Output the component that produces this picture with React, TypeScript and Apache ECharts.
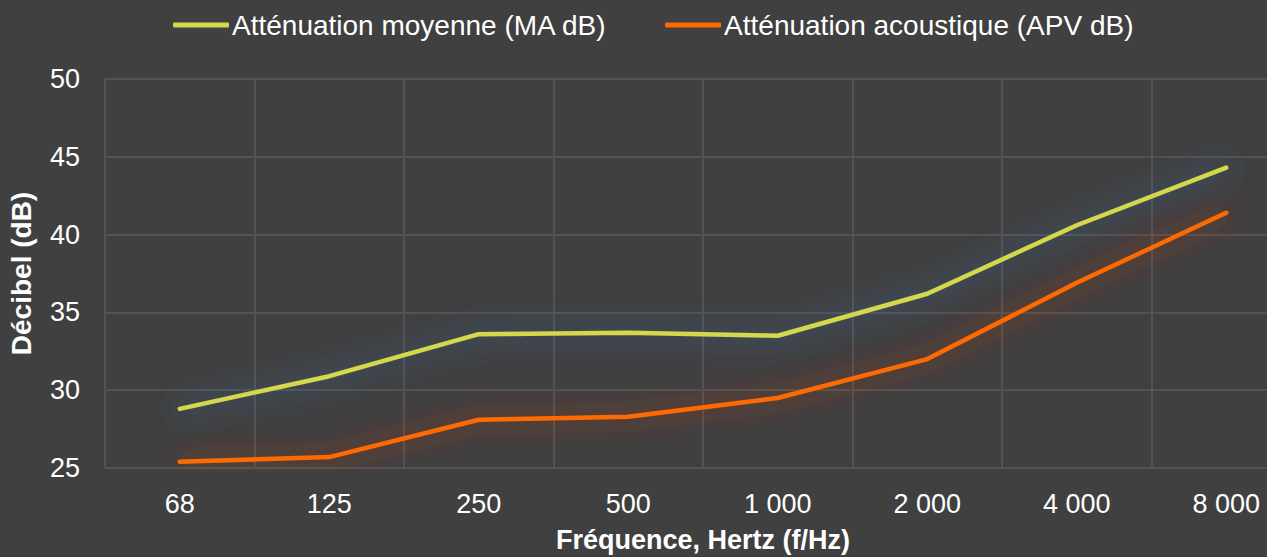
import React, { useEffect, useRef } from "react";
import * as echarts from "echarts";

const categories = ["68", "125", "250", "500", "1 000", "2 000", "4 000", "8 000"];
const maValues = [28.8, 30.9, 33.6, 33.7, 33.5, 36.2, 40.6, 44.3];
const apvValues = [25.4, 25.7, 28.1, 28.3, 29.5, 32.0, 36.9, 41.4];
const seriesNames = ["Atténuation moyenne (MA dB)", "Atténuation acoustique (APV dB)"];
const yMin = 25;
const yMax = 50;
const yInterval = 5;

const FONT = "'Liberation Sans', Arial, sans-serif";

export default function App() {
  const ref = useRef<HTMLDivElement>(null);
  useEffect(() => {
    if (!ref.current) return;
    const chart = echarts.init(ref.current, undefined, { renderer: "svg" });
    chart.setOption({
      animation: false,
      backgroundColor: "#404040",
      textStyle: { fontFamily: FONT },
      legend: {
        left: 168,
        top: 6,
        itemGap: 58,
        itemWidth: 56,
        itemHeight: 5,
        icon: "roundRect",
        textStyle: { color: "#ffffff", fontSize: 28, fontFamily: FONT, padding: [0, 0, 0, -2] },
        data: seriesNames,
      },
      grid: {
        left: 105,
        top: 79,
        width: 1196,
        height: 389,
        containLabel: false,
        outerBoundsMode: "none",
      },
      xAxis: {
        type: "category",
        data: categories,
        boundaryGap: true,
        axisLine: { show: false },
        axisTick: { show: false },
        splitLine: { show: true, lineStyle: { color: "#535353", width: 2 } },
        axisLabel: { color: "#ffffff", fontSize: 27, margin: 22, fontFamily: FONT },
        name: "Fréquence, Hertz (f/Hz)",
        nameLocation: "middle",
        nameGap: 58,
        nameTextStyle: { color: "#ffffff", fontSize: 27, fontWeight: "bold", fontFamily: FONT, align: "center" },
      },
      yAxis: {
        type: "value",
        min: yMin,
        max: yMax,
        interval: yInterval,
        axisLine: { show: false },
        axisTick: { show: false },
        splitLine: { show: true, lineStyle: { color: "#535353", width: 2 } },
        axisLabel: { color: "#ffffff", fontSize: 27, margin: 25, fontFamily: FONT },
        name: "Décibel (dB)",
        nameLocation: "middle",
        nameGap: 70,
        nameTextStyle: { color: "#ffffff", fontSize: 28, fontWeight: "bold", fontFamily: FONT },
      },
      series: [
        {
          name: seriesNames[0],
          type: "line",
          data: maValues,
          symbol: "none",
          color: "#d4d84a",
          lineStyle: {
            width: 4.5,
            color: "#d4d84a",
            cap: "round",
            shadowColor: "rgba(60,110,190,0.9)",
            shadowBlur: 28,
          },
        },
        {
          name: seriesNames[1],
          type: "line",
          data: apvValues,
          symbol: "none",
          color: "#ff6a00",
          lineStyle: {
            width: 4.5,
            color: "#ff6a00",
            cap: "round",
            shadowColor: "rgba(220,50,30,0.85)",
            shadowBlur: 28,
          },
        },
      ],
    });
    return () => chart.dispose();
  }, []);
  return (
    <div style={{ position: "absolute", left: 0, top: 0, width: 1267, height: 557, overflow: "hidden" }}>
      <div ref={ref} style={{ width: 1340, height: 557 }} />
    </div>
  );
}
